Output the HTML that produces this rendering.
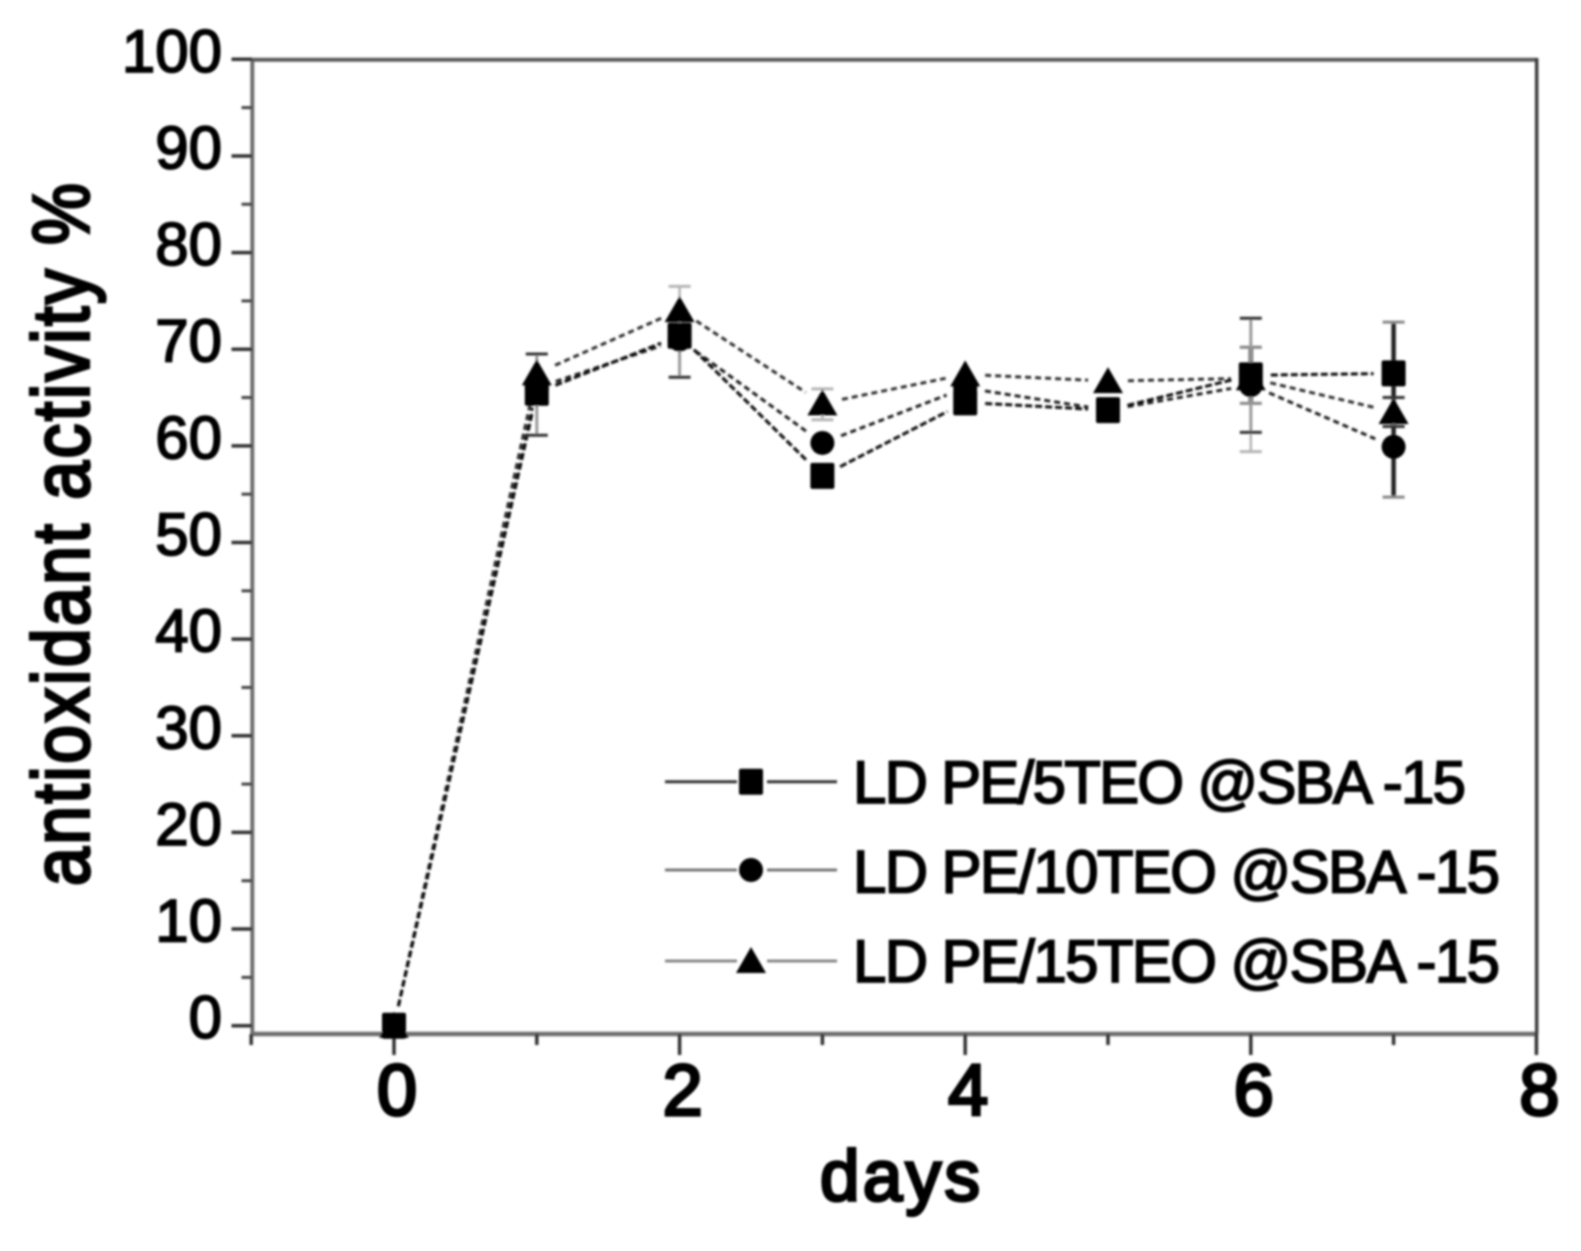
<!DOCTYPE html>
<html>
<head>
<meta charset="utf-8">
<title>Antioxidant activity chart</title>
<style>
html,body{margin:0;padding:0;background:#fff;width:1581px;height:1251px;overflow:hidden}
svg{display:block}
text{font-family:"Liberation Sans",sans-serif;fill:#000}
</style>
</head>
<body>
<svg id="chart" width="1581" height="1251" viewBox="0 0 1581 1251" xmlns="http://www.w3.org/2000/svg">
<defs><filter id="soft" x="-2%" y="-2%" width="104%" height="104%"><feGaussianBlur stdDeviation="1"/></filter></defs>
<rect width="1581" height="1251" fill="#fff"/>
<g id="root" filter="url(#soft)"></g>
</svg>
<script>
const days = [0, 1, 2, 3, 4, 5, 6, 7];
const xTickLabels = [0, 2, 4, 6, 8];
const xMinorTicks = [-1, 1, 3, 5, 7];
const yTickLabels = [0, 10, 20, 30, 40, 50, 60, 70, 80, 90, 100];
const yMinorTicks = [5, 15, 25, 35, 45, 55, 65, 75, 85, 95];

const values5TEO = [0, 65.5, 71.4, 56.9, 64.5, 63.7, 67.3, 67.5];
const values10TEO = [0, 66, 71, 60.3, 66, 63.7, 66.3, 59.9];
const values15TEO = [0, 67.5, 74.05, 64.4, 67.4, 66.7, 67, 63.5];

const high5TEO = [null, 69.5, null, null, null, null, 73.2, 65];
const low5TEO = [null, 61.1, 67.1, null, null, null, 61.4, 62];
const high10TEO = [null, null, null, null, null, null, 70.2, 72.8];
const low10TEO = [null, null, null, null, null, null, 64.4, 54.7];
const high15TEO = [null, null, 76.5, 65.9, null, null, 70.2, null];
const low15TEO = [null, null, 71.5, 62.7, null, null, 59.4, null];

const legendLabels = ["LD PE/5TEO @SBA -15", "LD PE/10TEO @SBA -15", "LD PE/15TEO @SBA -15"];

const NS = "http://www.w3.org/2000/svg";
const root = document.getElementById("root");

function xScale(v) { return 394 + (v * 142.8); }
function yScale(v) { return 1025.7 - (v * 9.664); }

function make(tag, attrs, parent) {
  const el = document.createElementNS(NS, tag);
  for (const k in attrs) el.setAttribute(k, attrs[k]);
  (parent || root).appendChild(el);
  return el;
}

function drawLine(x1, y1, x2, y2, color, width, dash, parent) {
  const attrs = { x1: x1, y1: y1, x2: x2, y2: y2, stroke: color, "stroke-width": width };
  if (dash) attrs["stroke-dasharray"] = dash;
  return make("line", attrs, parent);
}

function drawMarker(shape, cx, cy, parent) {
  if (shape === "square") {
    return make("rect", { x: cx - 12, y: cy - 13, width: 24, height: 26, rx: 2, fill: "#000" }, parent);
  }
  if (shape === "circle") {
    return make("circle", { cx: cx, cy: cy, r: 12, fill: "#000" }, parent);
  }
  return make("polygon", { points: (cx - 15) + "," + (cy + 12) + " " + cx + "," + (cy - 14) + " " + (cx + 15) + "," + (cy + 12), fill: "#000" }, parent);
}

/* Frame */
const frameLeft = drawLine(252.3, 59.3, 252.3, 1034, "#6e6e6e", 4);


const frameBottom = drawLine(251, 1034, 1537, 1034, "#6e6e6e", 4.5);


const frameTop = drawLine(252, 59.8, 1537, 59.8, "#5c5c5c", 4);


const frameRight = drawLine(1536.7, 58, 1536.7, 1034, "#3c3c3c", 3.5);



/* Y ticks */
yTickLabels.forEach(function (v) {
  const tick = drawLine(231.5, yScale(v), 252, yScale(v), "#333", 3.5);
  
  
  const label = make("text", { x: 222, y: yScale(v) + 12.5, "font-size": 60, "text-anchor": "end", stroke: "#000", "stroke-width": 1.8 });
  label.textContent = v;
  
  
});
yMinorTicks.forEach(function (v) {
  const tick = drawLine(241.5, yScale(v), 252, yScale(v), "#444", 3);
  
  
});

/* X ticks */
xTickLabels.forEach(function (v) {
  const tick = drawLine(xScale(v), 1034, xScale(v), 1055, "#333", 3.5);
  
  
  const label = make("text", { x: xScale(v) + 3, y: 1115, "font-size": 72, "text-anchor": "middle", stroke: "#000", "stroke-width": 3.2 });
  label.textContent = v;
  
  
});
xMinorTicks.forEach(function (v) {
  const tick = drawLine(xScale(v), 1034, xScale(v), 1045, "#333", 3.5);
  
  
});

/* Axis titles */
const xTitle = make("text", { x: 820, y: 1200.5, "font-size": 71, stroke: "#000", "stroke-width": 3.2, textLength: 160, lengthAdjust: "spacing" });
xTitle.textContent = "days";



const yTitle = make("text", { transform: "translate(88.5,886) rotate(-90) scale(0.87,1)", x: 0, y: 0, "font-size": 80, stroke: "#000", "stroke-width": 3.2, textLength: 808, lengthAdjust: "spacing" });
yTitle.textContent = "antioxidant activity %";



/* Series lines and error bars */
function drawSeries(name, values, highs, lows, color, dash, barColor, capColor, barWidth) {
  const group = make("g", {});
  
  
  for (let i = 0; i + 1 < days.length; i++) {
    const x1 = xScale(days[i]), y1 = yScale(values[i]);
    const x2 = xScale(days[i + 1]), y2 = yScale(values[i + 1]);
    const len = Math.hypot(x2 - x1, y2 - y1);
    const gap = Math.min(20, len / 3);
    const ux = (x2 - x1) / len, uy = (y2 - y1) / len;
    const seg = drawLine(x1 + ux * gap, y1 + uy * gap, x2 - ux * gap, y2 - uy * gap, color, 3, dash, group);
    
    
  }
  days.forEach(function (d, i) {
    const hi = highs[i] !== null ? highs[i] : values[i];
    const lo = lows[i] !== null ? lows[i] : values[i];
    if (highs[i] !== null || lows[i] !== null) {
      const bar = drawLine(xScale(d), yScale(hi), xScale(d), yScale(lo), barColor, barWidth, null, group);
      
      
    }
    if (highs[i] !== null) {
      const capTop = drawLine(xScale(d) - 11, yScale(hi), xScale(d) + 11, yScale(hi), capColor, 3, null, group);
      
      
    }
    if (lows[i] !== null) {
      const capBottom = drawLine(xScale(d) - 11, yScale(lo), xScale(d) + 11, yScale(lo), capColor, 3, null, group);
      
      
    }
  });
}
drawSeries("15teo", values15TEO, high15TEO, low15TEO, "#333", "6 4", "#b5b5b5", "#b5b5b5", 2.5);
drawSeries("10teo", values10TEO, high10TEO, low10TEO, "#222", "6 4", "#222", "#888", 4.5);
drawSeries("5teo", values5TEO, high5TEO, low5TEO, "#111", "7 3", "#999", "#333", 3);

/* Markers drawn above every line and error bar */
function drawSeriesMarkers(shape, values) {
  days.forEach(function (d, i) {
    const m = drawMarker(shape, xScale(d), yScale(values[i]));
    
    
  });
}
drawSeriesMarkers("triangle", values15TEO);
drawSeriesMarkers("circle", values10TEO);
drawSeriesMarkers("square", values5TEO);

/* Legend */
const legendGroup = make("g", {});


const legendShapes = ["square", "circle", "triangle"];
const legendColors = ["#333", "#777", "#888"];
const legendY = [781.7, 870, 961];
const legendBaseline = [803, 892.5, 982];
const legendWidths = [611, 645, 645];
legendLabels.forEach(function (t, i) {
  const entry = make("g", {}, legendGroup);
  
  
  const lineA = drawLine(665, legendY[i], 737, legendY[i], legendColors[i], 3, null, entry);
  
  
  const lineB = drawLine(767, legendY[i], 837, legendY[i], legendColors[i], 3, null, entry);
  
  
  const mk = drawMarker(legendShapes[i], 751, legendY[i], entry);
  
  
  const label = make("text", { x: 853, y: legendBaseline[i], "font-size": 60, stroke: "#000", "stroke-width": 1.8, textLength: legendWidths[i] + 2, lengthAdjust: "spacing" }, entry);
  label.textContent = t;
  
  
});
</script>
</body>
</html>
